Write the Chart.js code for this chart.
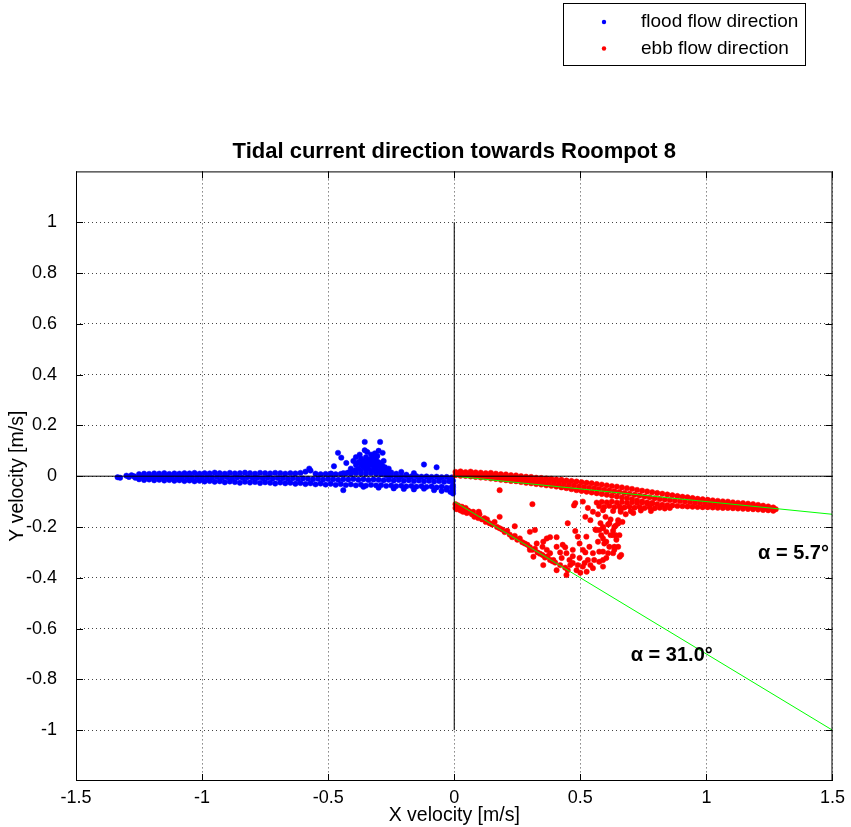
<!DOCTYPE html>
<html>
<head>
<meta charset="utf-8">
<title>Tidal current direction towards Roompot 8</title>
<script src="https://cdn.jsdelivr.net/npm/chart.js@4.4.1/dist/chart.umd.min.js"></script>
<style>
  body { margin: 0; background: #fff; }
  #wrap { width: 851px; height: 827px; }
</style>
</head>
<body>
<div id="wrap"><canvas id="tidalChart" width="851" height="827"></canvas></div>
<script>
const FONT = 'Arial, "Liberation Sans", Helvetica, sans-serif';

// axis ticks
const xTicks = [-1.5, -1, -0.5, 0, 0.5, 1, 1.5];
const yTicks = [-1, -0.8, -0.6, -0.4, -0.2, 0, 0.2, 0.4, 0.6, 0.8, 1];

// flood (blue) points as [x, y] in m/s
const floodStragglers = [[-1.335,-0.004],[-1.325,-0.006],[-1.30,0.002],[-1.29,-0.003],[-1.28,0.004],[-1.27,0.000],[-1.265,-0.006]];
const floodBandTop = [[-1.25,0.008],[-1.23,0.010],[-1.21,0.009],[-1.19,0.011],[-1.17,0.010],[-1.15,0.012],[-1.13,0.009],[-1.11,0.011],[-1.09,0.010],[-1.07,0.012],[-1.05,0.011],[-1.03,0.013],[-1.01,0.010],[-0.99,0.012],[-0.97,0.011],[-0.95,0.014],[-0.93,0.012],[-0.91,0.010],[-0.89,0.013],[-0.87,0.011],[-0.85,0.012],[-0.83,0.014],[-0.81,0.012],[-0.79,0.010],[-0.77,0.013],[-0.75,0.012],[-0.73,0.011],[-0.71,0.013],[-0.69,0.012],[-0.67,0.010],[-0.65,0.012],[-0.63,0.011],[-0.61,0.013],[-0.59,0.018],[-0.57,0.022],[-0.575,0.030],[-0.55,0.010],[-0.53,0.008],[-0.51,0.009],[-0.49,0.010],[-0.47,0.008],[-0.45,0.009],[-0.43,0.011],[-0.41,0.010],[-0.39,0.012],[-0.37,0.011],[-0.35,0.010],[-0.33,0.012],[-0.31,0.010],[-0.29,0.008],[-0.27,0.004],[-0.25,0.002],[-0.23,0.001],[-0.21,0.000],[-0.19,0.001],[-0.17,-0.001],[-0.15,0.000],[-0.13,-0.002],[-0.11,-0.001],[-0.09,-0.003],[-0.07,-0.002],[-0.05,-0.004],[-0.03,-0.003],[-0.01,-0.005]];
const floodBandMid = [[-1.24,-0.002],[-1.22,-0.004],[-1.20,-0.003],[-1.18,-0.001],[-1.16,-0.004],[-1.14,-0.002],[-1.12,-0.005],[-1.10,-0.003],[-1.08,-0.004],[-1.06,-0.002],[-1.04,-0.005],[-1.02,-0.003],[-1.00,-0.006],[-0.98,-0.004],[-0.96,-0.005],[-0.94,-0.003],[-0.92,-0.006],[-0.90,-0.004],[-0.88,-0.007],[-0.86,-0.005],[-0.84,-0.006],[-0.82,-0.004],[-0.80,-0.007],[-0.78,-0.006],[-0.76,-0.008],[-0.74,-0.006],[-0.72,-0.009],[-0.70,-0.007],[-0.68,-0.008],[-0.66,-0.010],[-0.64,-0.008],[-0.62,-0.011],[-0.60,-0.009],[-0.58,-0.010],[-0.56,-0.012],[-0.54,-0.010],[-0.52,-0.013],[-0.50,-0.011],[-0.48,-0.012],[-0.46,-0.014],[-0.44,-0.012],[-0.42,-0.013],[-0.40,-0.011],[-0.38,-0.014],[-0.36,-0.012],[-0.34,-0.015],[-0.32,-0.013],[-0.30,-0.014],[-0.28,-0.016],[-0.26,-0.014],[-0.24,-0.017],[-0.22,-0.015],[-0.20,-0.018],[-0.18,-0.016],[-0.16,-0.019],[-0.14,-0.017],[-0.12,-0.020],[-0.10,-0.018],[-0.08,-0.021],[-0.06,-0.019],[-0.04,-0.022],[-0.02,-0.020],[-0.005,-0.018]];
const floodBandLow = [[-1.25,-0.012],[-1.23,-0.015],[-1.21,-0.013],[-1.19,-0.016],[-1.17,-0.014],[-1.15,-0.017],[-1.13,-0.015],[-1.11,-0.018],[-1.09,-0.016],[-1.07,-0.019],[-1.05,-0.017],[-1.03,-0.020],[-1.01,-0.018],[-0.99,-0.021],[-0.97,-0.019],[-0.95,-0.022],[-0.93,-0.020],[-0.91,-0.024],[-0.89,-0.021],[-0.87,-0.023],[-0.85,-0.026],[-0.83,-0.022],[-0.81,-0.025],[-0.79,-0.023],[-0.77,-0.027],[-0.75,-0.024],[-0.73,-0.026],[-0.71,-0.029],[-0.69,-0.025],[-0.67,-0.028],[-0.65,-0.026],[-0.63,-0.030],[-0.61,-0.027],[-0.59,-0.031],[-0.57,-0.028],[-0.55,-0.032],[-0.53,-0.029],[-0.51,-0.033],[-0.49,-0.030],[-0.47,-0.034],[-0.45,-0.031],[-0.43,-0.035],[-0.41,-0.032],[-0.39,-0.036],[-0.37,-0.033],[-0.35,-0.037],[-0.33,-0.034],[-0.31,-0.036],[-0.29,-0.035],[-0.27,-0.038],[-0.25,-0.036],[-0.23,-0.039],[-0.21,-0.037],[-0.19,-0.040],[-0.17,-0.038],[-0.15,-0.041],[-0.13,-0.039],[-0.11,-0.042],[-0.09,-0.040],[-0.07,-0.044],[-0.05,-0.041],[-0.03,-0.045],[-0.01,-0.043],
  [-0.44,-0.055],[-0.36,-0.042],[-0.30,-0.045],[-0.24,-0.048],[-0.20,-0.050],[-0.16,-0.052],[-0.12,-0.049],[-0.08,-0.055],[-0.05,-0.058],[-0.03,-0.053],[-0.015,-0.062],[-0.005,-0.057],[-0.005,-0.045],[-0.005,-0.035],[-0.005,-0.068]];
const floodCluster = [[-0.355,0.135],[-0.294,0.135],[-0.461,0.092],[-0.448,0.073],[-0.428,0.052],[-0.477,0.039],[-0.488,0.010],[-0.12,0.046],[-0.07,0.035],[-0.21,0.017],[-0.16,0.012],[-0.355,0.102],[-0.345,0.095],[-0.33,0.085],[-0.315,0.090],[-0.284,0.092],[-0.30,0.100],[-0.40,0.060],[-0.39,0.045],[-0.38,0.055],[-0.37,0.070],[-0.36,0.060],[-0.35,0.075],[-0.34,0.050],[-0.33,0.065],[-0.32,0.040],[-0.31,0.070],[-0.30,0.055],[-0.29,0.045],[-0.28,0.060],[-0.275,0.035],[-0.41,0.030],[-0.40,0.020],[-0.38,0.030],[-0.36,0.035],[-0.35,0.025],[-0.34,0.030],[-0.33,0.020],[-0.32,0.025],[-0.31,0.030],[-0.30,0.020],[-0.29,0.025],[-0.28,0.018],[-0.27,0.020],[-0.26,0.012],[-0.25,0.015],[-0.37,0.045],[-0.33,0.045],[-0.305,0.080],[-0.325,0.075],[-0.345,0.040],[-0.36,0.050],[-0.26,0.030],[-0.23,0.010],[-0.19,0.006],[-0.42,0.015],[-0.44,0.012],
  [-0.39,0.075],[-0.375,0.085],[-0.34,0.065],[-0.32,0.055],[-0.30,0.040],[-0.35,0.055],[-0.37,0.020],[-0.39,0.025],[-0.31,0.050],[-0.285,0.040]];

// ebb (red) points as [x, y] in m/s
const ebbBandTop = [[0.005,0.017],[0.025,0.019],[0.045,0.016],[0.065,0.018],[0.085,0.015],[0.105,0.014],[0.125,0.012],[0.145,0.013],[0.165,0.010],[0.185,0.008],[0.205,0.007],[0.225,0.004],[0.245,0.003],[0.265,0.000],[0.285,-0.002],[0.305,-0.003],[0.325,-0.006],[0.345,-0.007],[0.365,-0.009],[0.385,-0.010],[0.405,-0.013],[0.425,-0.014],[0.445,-0.017],[0.465,-0.019],[0.485,-0.021],[0.505,-0.024],[0.525,-0.026],[0.545,-0.028],[0.565,-0.031],[0.585,-0.033],[0.605,-0.036],[0.625,-0.039],[0.645,-0.041],[0.665,-0.044],[0.685,-0.047],[0.705,-0.050],[0.725,-0.054],[0.745,-0.057],[0.765,-0.060],[0.785,-0.063],[0.805,-0.066],[0.825,-0.069],[0.845,-0.072],[0.865,-0.075],[0.885,-0.078],[0.905,-0.081],[0.925,-0.083],[0.945,-0.086],[0.965,-0.089],[0.985,-0.091],[1.005,-0.093],[1.025,-0.095],[1.045,-0.097],[1.065,-0.099],[1.085,-0.100],[1.105,-0.103],[1.125,-0.105],[1.145,-0.106],[1.165,-0.108],[1.185,-0.110],[1.205,-0.113],[1.225,-0.116],[1.245,-0.119],[1.265,-0.123]];
const ebbBandMid = [[0.015,0.010],[0.035,0.011],[0.055,0.008],[0.075,0.009],[0.095,0.005],[0.115,0.004],[0.135,0.002],[0.155,0.000],[0.175,-0.002],[0.195,-0.004],[0.215,-0.007],[0.235,-0.008],[0.255,-0.011],[0.275,-0.012],[0.295,-0.015],[0.315,-0.017],[0.335,-0.019],[0.355,-0.021],[0.375,-0.022],[0.395,-0.025],[0.415,-0.028],[0.435,-0.030],[0.455,-0.033],[0.475,-0.036],[0.495,-0.040],[0.515,-0.042],[0.535,-0.045],[0.555,-0.047],[0.575,-0.050],[0.595,-0.053],[0.615,-0.056],[0.635,-0.059],[0.655,-0.062],[0.675,-0.066],[0.695,-0.069],[0.715,-0.073],[0.735,-0.076],[0.755,-0.080],[0.775,-0.083],[0.795,-0.087],[0.815,-0.090],[0.835,-0.092],[0.855,-0.094],[0.875,-0.096],[0.895,-0.098],[0.915,-0.100],[0.935,-0.102],[0.955,-0.104],[0.975,-0.105],[0.995,-0.107],[1.015,-0.108],[1.035,-0.110],[1.055,-0.111],[1.075,-0.112],[1.095,-0.114],[1.115,-0.115],[1.135,-0.117],[1.155,-0.118],[1.175,-0.119],[1.195,-0.121],[1.215,-0.122],[1.235,-0.124],[1.255,-0.127],[1.275,-0.130]];
const ebbBandLow = [[0.005,0.004],[0.025,0.002],[0.045,0.001],[0.065,-0.001],[0.085,-0.003],[0.105,-0.005],[0.125,-0.006],[0.145,-0.009],[0.165,-0.011],[0.185,-0.014],[0.205,-0.016],[0.225,-0.019],[0.245,-0.020],[0.265,-0.023],[0.285,-0.026],[0.305,-0.028],[0.325,-0.031],[0.345,-0.033],[0.365,-0.036],[0.385,-0.038],[0.405,-0.041],[0.425,-0.044],[0.445,-0.047],[0.465,-0.051],[0.485,-0.055],[0.505,-0.058],[0.525,-0.061],[0.545,-0.064],[0.565,-0.067],[0.585,-0.070],[0.605,-0.073],[0.625,-0.077],[0.645,-0.080],[0.665,-0.084],[0.685,-0.087],[0.705,-0.091],[0.725,-0.095],[0.745,-0.099],[0.765,-0.103],[0.785,-0.107],[0.805,-0.110],[0.825,-0.112],[0.845,-0.114],[0.865,-0.115],[0.885,-0.117],[0.905,-0.118],[0.925,-0.119],[0.945,-0.120],[0.965,-0.121],[0.985,-0.122],[1.005,-0.122],[1.025,-0.123],[1.045,-0.124],[1.065,-0.125],[1.085,-0.125],[1.105,-0.126],[1.125,-0.127],[1.145,-0.128],[1.165,-0.129],[1.185,-0.130],[1.205,-0.131],[1.225,-0.133],[1.245,-0.134],[1.265,-0.136]];
const ebbSideBand = [[0.565,-0.104],[0.585,-0.101],[0.605,-0.103],[0.625,-0.100],[0.645,-0.104],[0.665,-0.102],[0.685,-0.105],[0.705,-0.103],[0.725,-0.106],[0.745,-0.104],[0.765,-0.107],[0.785,-0.105],
  [0.575,-0.118],[0.595,-0.121],[0.615,-0.117],[0.635,-0.122],[0.655,-0.119],[0.675,-0.123],[0.695,-0.120],[0.715,-0.124],[0.735,-0.121],[0.755,-0.125],[0.775,-0.122],[0.795,-0.126],[0.815,-0.124],[0.835,-0.127],[0.855,-0.125],
  [0.59,-0.134],[0.63,-0.137],[0.66,-0.133],[0.70,-0.138],[0.74,-0.135],[0.78,-0.137],
  [0.57,-0.150],[0.60,-0.160],[0.62,-0.170],[0.58,-0.185],[0.61,-0.190],[0.64,-0.195],[0.56,-0.210],[0.59,-0.205],[0.63,-0.215],[0.66,-0.140],[0.68,-0.150],[0.71,-0.145],[0.54,-0.173],[0.65,-0.173]];
const ebbDiagonal = [[0.005,-0.110],[0.005,-0.125],[0.010,-0.130],[0.015,-0.115],[0.020,-0.125],[0.025,-0.135],[0.030,-0.120],[0.035,-0.140],[0.040,-0.130],[0.045,-0.125],[0.050,-0.145],[0.055,-0.135],[0.060,-0.140],[0.070,-0.150],[0.075,-0.140],[0.080,-0.160],[0.090,-0.155],[0.095,-0.165],[0.097,-0.140],[0.100,-0.150],[0.110,-0.170],[0.120,-0.165],[0.125,-0.180],[0.130,-0.170],[0.140,-0.185],[0.150,-0.190],[0.160,-0.180],[0.170,-0.200],[0.180,-0.205],[0.190,-0.210],[0.200,-0.220],[0.210,-0.215],[0.220,-0.230],[0.230,-0.240],[0.240,-0.235],[0.250,-0.250],[0.260,-0.245],[0.270,-0.260],[0.280,-0.265],[0.290,-0.270],[0.300,-0.280],[0.310,-0.290],[0.320,-0.285],[0.330,-0.300],[0.340,-0.305],[0.350,-0.310],[0.360,-0.320],[0.370,-0.315],[0.380,-0.330],[0.390,-0.335],[0.400,-0.340],[0.420,-0.350],[0.440,-0.360],[0.450,-0.370]];
const ebbCloud = [[0.18,-0.055],[0.31,-0.110],[0.48,-0.106],[0.475,-0.115],[0.51,-0.100],[0.24,-0.197],[0.18,-0.160],[0.45,-0.185],[0.48,-0.216],[0.53,-0.125],[0.55,-0.140],[0.52,-0.160],
  [0.30,-0.219],[0.32,-0.212],[0.367,-0.245],[0.38,-0.240],[0.406,-0.240],[0.35,-0.278],[0.367,-0.290],[0.38,-0.303],[0.406,-0.278],[0.43,-0.270],[0.445,-0.303],[0.426,-0.322],[0.457,-0.330],[0.47,-0.342],[0.49,-0.350],[0.51,-0.356],[0.445,-0.389],[0.485,-0.370],[0.525,-0.376],[0.517,-0.342],[0.497,-0.322],[0.51,-0.290],[0.497,-0.265],[0.49,-0.238],[0.524,-0.238],[0.536,-0.278],[0.55,-0.303],[0.555,-0.330],[0.575,-0.337],[0.59,-0.297],[0.595,-0.265],[0.583,-0.232],[0.603,-0.219],[0.63,-0.232],[0.643,-0.250],[0.615,-0.278],[0.635,-0.290],[0.656,-0.317],[0.603,-0.322],[0.55,-0.362],[0.47,-0.290],[0.353,-0.258],[0.327,-0.265],[0.30,-0.290],[0.314,-0.317],[0.353,-0.350],[0.393,-0.330],[0.406,-0.370],[0.57,-0.258],[0.635,-0.200],[0.655,-0.232],[0.59,-0.200],[0.563,-0.212],
  [0.575,-0.212],[0.59,-0.245],[0.62,-0.232],[0.64,-0.232],[0.603,-0.258],[0.635,-0.278],[0.65,-0.278],[0.662,-0.310],[0.63,-0.303],[0.61,-0.303],[0.59,-0.330],[0.59,-0.356],[0.575,-0.297],[0.65,-0.186],[0.667,-0.180],[0.615,-0.186],
  [0.42,-0.300],[0.46,-0.350],[0.50,-0.380],[0.53,-0.330],[0.52,-0.300],[0.54,-0.350],[0.47,-0.315],[0.44,-0.280]];

// reference lines and fitted directions
const zeroAxisX = [[-1.5,0],[1.5,0]];
const zeroAxisY = [[0,-1],[0,1]];
const fitSmall = [[0,0],[1.5,-0.15]];
const fitLarge = [[0,-0.1],[1.5,-1.0]];
const angleLabels = [{ text: 'α = 5.7°', x: 1.205, y: -0.306 }, { text: 'α = 31.0°', x: 0.70, y: -0.707 }];
const legendItems = [{ text: 'flood flow direction', color: '#0000ff' }, { text: 'ebb flow direction', color: '#ff0000' }];

const toXY = arr => arr.map(p => ({ x: p[0], y: p[1] }));
const floodPts = [].concat(floodStragglers, floodBandTop, floodBandMid, floodBandLow, floodCluster);
const ebbPts = [].concat(ebbBandTop, ebbBandMid, ebbBandLow, ebbSideBand, ebbDiagonal, ebbCloud);

function dots(label, pts, color, order) {
  return { label, data: toXY(pts), order, pointRadius: 2.7, pointBackgroundColor: color, pointBorderColor: color, pointBorderWidth: 0.5 };
}
function segment(label, pts, color, order) {
  return { label, data: toXY(pts), order, showLine: true, pointRadius: 0, borderColor: color, borderWidth: 1 };
}

const tickText = v => String(+Number(v).toFixed(2));

// MATLAB-like box, inner ticks, text labels and legend box
const frame = {
  id: 'frame',
  afterDraw(chart) {
    const { ctx, chartArea: a, scales: { x, y } } = chart;
    ctx.save();
    ctx.strokeStyle = '#000';
    ctx.lineWidth = 1;
    ctx.strokeRect(a.left + 0.5, a.top + 0.5, a.right - a.left - 1, a.bottom - a.top - 1);
    ctx.beginPath();
    xTicks.forEach(v => {
      const px = Math.round(x.getPixelForValue(v)) + 0.5;
      ctx.moveTo(px, a.bottom); ctx.lineTo(px, a.bottom - 7);
      ctx.moveTo(px, a.top); ctx.lineTo(px, a.top + 7);
    });
    yTicks.forEach(v => {
      const py = Math.round(y.getPixelForValue(v)) + 0.5;
      ctx.moveTo(a.left, py); ctx.lineTo(a.left + 7, py);
      ctx.moveTo(a.right, py); ctx.lineTo(a.right - 7, py);
    });
    ctx.stroke();

    ctx.fillStyle = '#000';
    ctx.font = 'bold 20px ' + FONT;
    ctx.textAlign = 'left';
    ctx.textBaseline = 'middle';
    angleLabels.forEach(l => ctx.fillText(l.text, x.getPixelForValue(l.x), y.getPixelForValue(l.y)));

    // legend
    ctx.fillStyle = '#fff';
    ctx.fillRect(563, 3, 243, 63);
    ctx.strokeStyle = '#000';
    ctx.strokeRect(563.5, 3.5, 242, 62);
    ctx.font = '19px ' + FONT;
    legendItems.forEach((it, i) => {
      const cy = 22 + i * 26.5;
      ctx.fillStyle = it.color;
      ctx.beginPath(); ctx.arc(604, cy, 2.2, 0, Math.PI * 2); ctx.fill();
      ctx.fillStyle = '#000';
      ctx.fillText(it.text, 641, cy);
    });
    ctx.restore();
  }
};

new Chart(document.getElementById('tidalChart'), {
  type: 'scatter',
  data: {
    datasets: [
      dots('flood flow direction', floodPts, '#0000ff', 2),
      dots('ebb flow direction', ebbPts, '#ff0000', 1),
      segment('x axis', zeroAxisX, '#000000', 0),
      segment('y axis', zeroAxisY, '#000000', 0),
      segment('alpha 5.7', fitSmall, '#00ff00', 0),
      segment('alpha 31.0', fitLarge, '#00ff00', 0)
    ]
  },
  options: {
    responsive: false,
    animation: false,
    events: [],
    layout: { padding: { left: 0, right: 14, top: 0, bottom: 0 } },
    plugins: {
      legend: { display: false },
      tooltip: { enabled: false },
      title: {
        display: true,
        fullSize: false,
        text: 'Tidal current direction towards Roompot 8',
        color: '#000',
        font: { family: FONT, size: 22, weight: 'bold', lineHeight: 1.2 },
        padding: { top: 139, bottom: 6 }
      }
    },
    scales: {
      x: {
        type: 'linear', min: -1.5, max: 1.5,
        afterBuildTicks: s => { s.ticks = xTicks.map(v => ({ value: v })); },
        afterFit: s => { s.height = 46; },
        grid: { color: '#444', drawTicks: false },
        border: { display: false, dash: [1, 3] },
        ticks: { color: '#000', padding: 6, font: { family: FONT, size: 18 }, callback: tickText },
        title: { display: true, text: 'X velocity [m/s]', color: '#000', font: { family: FONT, size: 19.5, lineHeight: 1.2 }, padding: { top: 0, bottom: 0 } }
      },
      y: {
        type: 'linear', min: -1.2, max: 1.2,
        afterBuildTicks: s => { s.ticks = yTicks.map(v => ({ value: v })); },
        afterFit: s => { s.width = 76; },
        grid: { color: '#444', drawTicks: false },
        border: { display: false, dash: [1, 3] },
        ticks: { color: '#000', padding: 19, font: { family: FONT, size: 18 }, callback: tickText },
        title: { display: true, text: 'Y velocity [m/s]', color: '#000', font: { family: FONT, size: 19.5, lineHeight: 1.2 }, padding: { top: 6, bottom: 0 } }
      }
    }
  },
  plugins: [frame]
});
</script>
</body>
</html>
